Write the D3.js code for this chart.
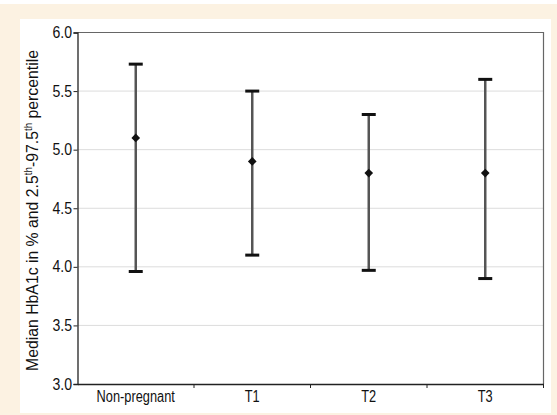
<!DOCTYPE html>
<html><head><meta charset="utf-8">
<script src="https://d3js.org/d3.v7.min.js"></script>
<style>
body{margin:0;background:#fff;}
svg{display:block;}
text{font-family:"Liberation Sans Narrow","Liberation Sans",Arial,sans-serif;fill:#111;}
</style></head><body>
<svg id="c" width="557" height="415"></svg>
<script>
const categories = ["Non-pregnant","T1","T2","T3"];
const medians = [5.1, 4.9, 4.8, 4.8];
const lower = [3.96, 4.1, 3.97, 3.9];
const upper = [5.73, 5.5, 5.3, 5.6];
const yTicks = [3.0,3.5,4.0,4.5,5.0,5.5,6.0];

const svg = d3.select("#c");
svg.append("rect").attr("x",0).attr("y",4).attr("width",557).attr("height",411).attr("fill","#fcf2e2");
svg.append("rect").attr("x",20).attr("y",19).attr("width",531).attr("height",394).attr("fill","#fff");

const m = {l:77.5, r:543.5, t:32.5, b:384};
const x = d3.scaleBand().domain(categories).range([m.l,m.r]);
const y = d3.scaleLinear().domain([3,6]).range([m.b,m.t]);

function condense(sel, k){
  sel.each(function(){
    const w = this.getComputedTextLength();
    d3.select(this).attr("textLength", w*k).attr("lengthAdjust","spacingAndGlyphs");
  });
}

// grid
svg.append("g").selectAll("line").data(yTicks.slice(1,-1)).join("line")
  .attr("x1",m.l).attr("x2",m.r).attr("y1",d=>y(d)).attr("y2",d=>y(d))
  .attr("stroke","#dcdcdc").attr("stroke-width",1);
// top & right border
svg.append("path").attr("d",`M${m.l},${m.t}H${m.r}V${m.b}`).attr("fill","none").attr("stroke","#666").attr("stroke-width",1.2);

// y axis
const ya = svg.append("g").attr("transform",`translate(${m.l},0)`)
  .call(d3.axisLeft(y).tickValues(yTicks).tickFormat(d3.format(".1f")).tickSize(4).tickPadding(1.5));
ya.select(".domain").attr("stroke","#222").attr("stroke-width",1.3);
ya.selectAll(".tick line").attr("stroke","#222");
ya.selectAll("text").style("font-size","16px").attr("fill","#111");
condense(ya.selectAll("text"), 0.88);

// x axis
const xa = svg.append("g").attr("transform",`translate(0,${m.b})`)
  .call(d3.axisBottom(x).tickSize(0).tickPadding(7));
xa.select(".domain").attr("stroke","#222").attr("stroke-width",1.3);
xa.selectAll("text").style("font-size","16px").attr("fill","#111");
condense(xa.selectAll("text"), 0.8);
// boundary ticks
const bounds = categories.map(c=>x(c)+x.bandwidth());
svg.append("g").selectAll("line").data(bounds).join("line")
  .attr("x1",d=>d).attr("x2",d=>d).attr("y1",m.b).attr("y2",m.b+4)
  .attr("stroke","#222").attr("stroke-width",1);

// error bars
const g = svg.append("g");
categories.forEach((c,i)=>{
  const cx = x(c)+x.bandwidth()/2;
  g.append("line").attr("x1",cx).attr("x2",cx).attr("y1",y(upper[i])).attr("y2",y(lower[i]))
    .attr("stroke","#555").attr("stroke-width",2.5);
  [upper[i],lower[i]].forEach(v=>{
    g.append("line").attr("x1",cx-7).attr("x2",cx+7).attr("y1",y(v)).attr("y2",y(v))
      .attr("stroke","#111").attr("stroke-width",3);
  });
  g.append("path").attr("d",d3.symbol(d3.symbolDiamond2,48)())
    .attr("transform",`translate(${cx},${y(medians[i])})`).attr("fill","#111");
});

// y label
const lab = svg.append("text").attr("transform",`translate(38,210.5) rotate(-90)`)
  .attr("text-anchor","middle").style("font-size","16px");
lab.append("tspan").text("Median HbA1c in % and 2.5");
lab.append("tspan").text("th").attr("dy","-6").style("font-size","10px");
lab.append("tspan").text("-97.5").attr("dy","6");
lab.append("tspan").text("th").attr("dy","-6").style("font-size","10px");
lab.append("tspan").text(" percentile").attr("dy","6");
lab.attr("textLength", 321).attr("lengthAdjust","spacingAndGlyphs");
</script>
</body></html>
